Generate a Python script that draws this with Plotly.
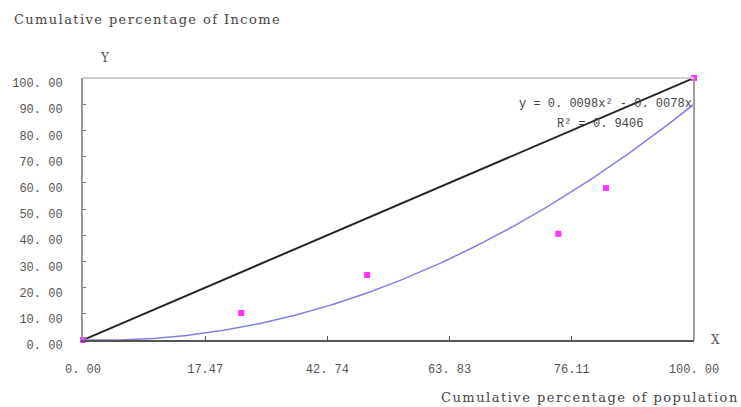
import numpy as np
import plotly.graph_objects as go

# Lorenz-curve data: cumulative population share vs cumulative income share
pop_share = [0.0, 25.9, 46.5, 77.8, 85.6, 100.0]
income_share = [0.0, 10.3, 24.8, 40.5, 58.0, 100.0]

# Equality line
equality_x = [0.0, 100.0]
equality_y = [0.0, 100.0]

# Polynomial trend (quadratic, no intercept)
trend_a = 0.0096
trend_b = -0.060
trend_label = "y = 0.0098x² - 0.0078x"
r2_label = "R² = 0.9406"

# Axis ticks
x_tickvals = [0, 20, 40, 60, 80, 100]
x_ticktext = ["0. 00", "17.47", "42. 74", "63. 83", "76.11", "100. 00"]
y_tickvals = list(range(0, 101, 10))
y_ticktext = [f"{v:.2f}".replace(".", ". ") for v in y_tickvals]

serif = "DejaVu Serif, serif"
mono = "Liberation Mono, Courier New, monospace"


def spaced(text, px):
    return f'<span style="letter-spacing:{px}px">{text}</span>'


tx = np.linspace(0, 100, 201)
ty = trend_a * tx ** 2 + trend_b * tx

fig = go.Figure()
fig.add_trace(go.Scatter(x=equality_x, y=equality_y, mode="lines",
                         line=dict(color="#262626", width=2), cliponaxis=False))
fig.add_trace(go.Scatter(x=tx, y=ty, mode="lines",
                         line=dict(color="#8080e4", width=1.5), cliponaxis=False))
fig.add_trace(go.Scatter(x=pop_share, y=income_share, mode="markers",
                         marker=dict(symbol="square", size=6, color="#ff33ff"),
                         cliponaxis=False))

fig.update_layout(
    width=741, height=407,
    margin=dict(l=81, r=47, t=78, b=67),
    paper_bgcolor="white", plot_bgcolor="white",
    showlegend=False,
    font=dict(family=serif, size=12, color="#444"),
    xaxis=dict(range=[0, 100], tickvals=x_tickvals, ticktext=x_ticktext,
               ticks="inside", ticklen=4, tickcolor="#555",
               showline=True, linecolor="#555", linewidth=2,
               showgrid=False, zeroline=False, mirror=False,
               ticklabelstandoff=17,
               tickfont=dict(family=mono, size=12, color="#555")),
    yaxis=dict(range=[0, 100], tickvals=y_tickvals, ticktext=y_ticktext,
               ticks="inside", ticklen=3, tickcolor="#777",
               showline=True, linecolor="#999", linewidth=2,
               showgrid=False, zeroline=False,
               ticklabelstandoff=16, ticklabelshift=5,
               tickfont=dict(family=mono, size=12, color="#555")),
    shapes=[
        dict(type="line", xref="paper", yref="paper", x0=0, x1=1, y0=1, y1=1,
             line=dict(color="#d0d0d0", width=2)),
        dict(type="line", xref="paper", yref="paper", x0=1, x1=1, y0=0, y1=1,
             line=dict(color="#a0a0a0", width=2)),
    ],
    annotations=[
        dict(text=spaced("Cumulative percentage of Income", 1.4), xref="paper", yref="paper",
             x=-71 / 613, y=1 + 59 / 262, xanchor="left", yanchor="middle",
             showarrow=False, font=dict(family=serif, size=13, color="#444")),
        dict(text="Y", xref="paper", yref="paper", x=22 / 613, y=1 + 20 / 262,
             xanchor="center", yanchor="middle", showarrow=False,
             font=dict(family=serif, size=12, color="#555")),
        dict(text="X", xref="paper", yref="paper", x=1 + 22 / 613, y=0,
             xanchor="center", yanchor="middle", showarrow=False,
             font=dict(family=serif, size=12, color="#555")),
        dict(text=spaced("Cumulative percentage of population", 1.5), xref="paper", yref="paper",
             x=1 + 47 / 613, y=-57 / 262, xanchor="right", yanchor="middle",
             showarrow=False, font=dict(family=serif, size=13, color="#444")),
        dict(text=trend_label.replace(".", ". "), xref="paper", yref="paper",
             x=1, y=(340 - 104) / 262,
             xanchor="right", yanchor="middle", showarrow=False,
             font=dict(family=mono, size=12, color="#444")),
        dict(text=r2_label.replace(".", ". "), xref="paper", yref="paper",
             x=(600 - 81) / 613, y=(340 - 124) / 262,
             xanchor="center", yanchor="middle", showarrow=False,
             font=dict(family=mono, size=12, color="#444")),
    ],
)

fig.write_html("out.html")
